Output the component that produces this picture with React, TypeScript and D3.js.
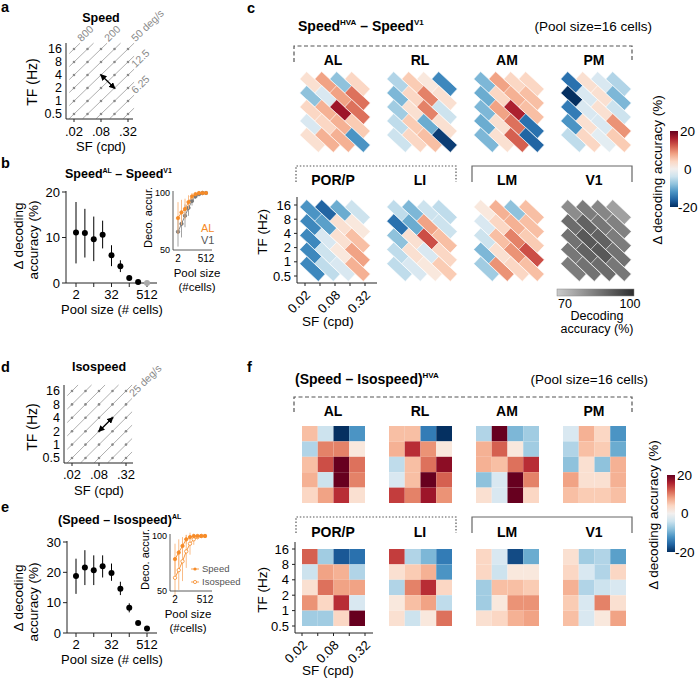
import * as React from 'react';
import * as d3 from 'd3';

const FONT = "'Liberation Sans', Arial, Helvetica, sans-serif";
const ORANGE = '#f68b28';
const ORANGE_LIGHT = '#f8b47a';

// stimulus grid
const sfValues = [0.02, 0.04, 0.08, 0.16, 0.32];
const tfValues = [16, 8, 4, 2, 1, 0.5];
const tfTickLabels = ['16', '8', '4', '2', '1', '0.5'];
const sfLabelValues = [0.02, 0.08, 0.32];
const sfLabelsShort = ['.02', '.08', '.32'];
const sfLabelsLong = ['0.02', '0.08', '0.32'];

// iso-speed lines of the schematics (deg/s)
const speedLines = [800, 400, 200, 100, 50, 25, 12.5, 6.25, 3.125, 1.5625];
const speedLabelAt = [800, 200, 50, 12.5, 3.125];
const speedLabelText = ['800', '200', '50 deg/s', '12.5', '6.25'];
const isoLabelAt = [25];
const isoLabelText = ['25 deg/s'];

// pool sizes
const poolSizes = [2, 4, 8, 16, 32, 64, 128, 256, 512];
const poolTickValues = [2, 32, 512];

// b: Speed(AL) - Speed(V1)
const bMean = [11.1, 11.0, 9.6, 10.6, 6.1, 3.7, 1.1, 0.2, 0];
const bLow = [4.3, 5.6, 4.8, 7.6, 3.7, 2.4, 0.6, 0, 0];
const bHigh = [17.8, 16.3, 14.6, 13.7, 8.3, 5.0, 1.6, 0.4, 0.1];
const bInsetAL = [78, 83, 86, 92, 97, 99, 100, 100, 100];
const bInsetALErr = [14, 11, 9, 6, 3, 1.5, 0.6, 0.3, 0.2];
const bInsetV1 = [66, 73, 80, 87, 93, 97, 99, 100, 100];
const bInsetV1Err = [13, 12, 10, 7, 4, 2, 1, 0.5, 0.3];

// e: (Speed - Isospeed) AL
const eMean = [18.8, 21.6, 20.7, 22.0, 19.8, 14.6, 8.3, 3.3, 1.5];
const eLow = [12.9, 15.8, 15.8, 18.3, 17.2, 12.5, 6.8, 2.8, 1.2];
const eHigh = [24.5, 27.3, 25.6, 25.6, 22.9, 16.9, 9.8, 3.8, 1.8];
const eInsetSpeed = [79, 85, 91, 97, 99, 100, 100, 100, 100];
const eInsetSpeedErr = [14, 12, 8, 4, 2, 1, 0.5, 0.3, 0.2];
const eInsetIso = [62, 69, 77, 86, 93, 97, 99, 100, 100];
const eInsetIsoErr = [16, 18, 18, 15, 10, 5, 2, 1, 0.5];

// c: Speed(HVA) - Speed(V1), rows = TF 16 -> 0.5, cols = SF .02 -> .32
const topRegions = ['AL', 'RL', 'AM', 'PM'];
const bottomRegions = ['POR/P', 'LI', 'LM', 'V1'];
const speedAL = [[3, 8, -8, 4], [-8, -3, 8, 11], [4, 7, 17, 11], [-3, 4, 7, 5], [3, 7, 7, -12]];
const speedRL = [[-6, 5, 2, -13], [-9, 4, 10, 3], [-7, 3, 10, -4], [-5, 5, -10, 3], [-4, 4, 6, -19]];
const speedAM = [[-9, 8, 4, 4], [-10, 4, 7, 6], [-9, 8, 16, 6], [-10, 3, 11, -15], [-9, 3, 12, -16]];
const speedPM = [[-15, 3, -3, -6], [-20, -3, 3, -9], [-14, -3, 3, -4], [-12, 3, -3, 9], [-5, 4, -2, 5]];
const speedPOR = [[-12, -16, -10, -4], [-13, -11, 3, 2], [-13, -3, 3, 6], [-13, -4, 2, 8], [-13, -5, -3, 7]];
const speedLI = [[-5, -9, -4, -5], [-15, -10, 8, -4], [-8, 3, 13, 6], [-5, 3, -3, 4], [-5, -3, 2, 5]];
const speedLM = [[2, 7, -8, 6], [-3, 4, 7, 6], [-4, 6, 10, 5], [-9, 3, 9, 13], [-7, 9, 4, 6]];
const speedV1Acc = [[82, 85, 83, 78], [88, 90, 86, 84], [87, 92, 90, 85], [86, 90, 92, 87], [85, 87, 88, 86]];

// f: (Speed - Isospeed) HVA
const isoAL = [[6, -4, -20, -12], [-6, 10, 10, 2], [6, 13, 20, 11], [7, -4, 20, 10], [4, 8, 15, 3]];
const isoRL = [[6, 6, -14, -20], [7, 15, 9, 2], [-5, 6, 11, 18], [-3, 6, 20, 12], [14, 10, 17, 9]];
const isoAM = [[-6, 20, -9, -7], [7, 12, 2, -7], [7, 6, 11, 15], [-8, -3, 20, 10], [3, -3, 20, 4]];
const isoPM = [[-3, 7, 4, -12], [-6, 6, 5, -10], [-8, 3, -8, 7], [8, 3, 3, 7], [6, 5, 5, 6]];
const isoPOR = [[12, -7, -17, -15], [-4, 8, 7, -6], [3, 11, 8, 8], [9, 4, 15, -3], [-7, -7, 4, 20]];
const isoLI = [[14, -6, -9, -14], [3, 5, 7, -12], [-6, 10, 15, 4], [2, 6, 8, -5], [3, -4, 2, 11]];
const isoLM = [[4, -3, -18, -10], [4, -4, 2, 2], [-7, 6, 6, 5], [-7, 2, 9, 9], [3, 4, 7, 8]];
const isoV1 = [[3, -7, -6, -11], [4, -3, -6, 4], [7, -6, -4, -3], [5, -3, 10, 3], [6, -3, 2, 8]];

const diffColor = d3.scaleSequential(d3.interpolateRdBu).domain([20, -20]).clamp(true);
const accColor = d3.scaleLinear<string>().domain([70, 100]).range(['#cacaca', '#2e2e2e']).clamp(true);

function gridScales(x0: number, x1: number, yTop: number, yBot: number) {
  return {
    x: d3.scaleLog().base(2).domain([0.02, 0.32]).range([x0, x1]),
    y: d3.scaleLog().base(2).domain([0.5, 16]).range([yBot, yTop]),
  };
}

function Schematic(props: any) {
  const { x0, x1, yTop, yBot, axX, axY, axTop, axRight, title, titleY, labelAt, labelText, arrow, tickY, sfLabelY, tfLabelCY } = props;
  const { x, y } = gridScales(x0, x1, yTop, yBot);
  const sfLo = 0.02 * 2 ** -0.35, sfHi = 0.32 * 2 ** 0.45;
  const tfLo = 0.5 * 2 ** -0.35, tfHi = 16 * 2 ** 0.45;
  const angle = (-Math.atan2(y(1) - y(2), x(0.04) - x(0.02)) * 180) / Math.PI;
  const segs = speedLines.map(s => {
    const lo = Math.max(sfLo, tfLo / s), hi = Math.min(sfHi, tfHi / s);
    return { s, lo, hi };
  }).filter(d => d.lo < d.hi);
  return (
    <g>
      <text x={(x0 + x1) / 2} y={titleY} fontSize={12.5} fontWeight="bold" textAnchor="middle">{title}</text>
      {segs.map(d => (
        <line key={d.s} x1={x(d.lo)} y1={y(d.s * d.lo)} x2={x(d.hi)} y2={y(d.s * d.hi)} stroke="#9a9a9a" strokeWidth={0.8} />
      ))}
      {sfValues.map(sf => tfValues.map(tf => (
        <circle key={sf + '-' + tf} cx={x(sf)} cy={y(tf)} r={1.3} fill="#8a8a8a" />
      )))}
      {segs.filter(d => labelAt.includes(d.s)).map(d => {
        const t = labelText[labelAt.indexOf(d.s)];
        return (
          <text key={t} transform={`translate(${x(d.hi) + 1.5},${y(d.s * d.hi) - 1}) rotate(${angle})`} fontSize={10.5} fill="#8a8a8a">{t}</text>
        );
      })}
      <line x1={x(arrow[0])} y1={y(arrow[1])} x2={x(arrow[2])} y2={y(arrow[3])} stroke="#000" strokeWidth={1.3}
        markerStart="url(#arrowHead)" markerEnd="url(#arrowHead)" />
      <line x1={axX} y1={axTop} x2={axX} y2={axY} stroke="#222" strokeWidth={1} />
      <line x1={axX} y1={axY} x2={axRight} y2={axY} stroke="#222" strokeWidth={1} />
      {tfValues.map((tf, i) => (
        <text key={tf} x={axX - 4} y={y(tf) + 4.3} fontSize={12.5} textAnchor="end">{tfTickLabels[i]}</text>
      ))}
      {sfLabelValues.map((sf, i) => (
        <g key={sf}>
          <line x1={x(sf)} x2={x(sf)} y1={axY} y2={axY + 3} stroke="#222" />
          <text x={x(sf)} y={tickY} fontSize={13} textAnchor="middle">{sfLabelsShort[i]}</text>
        </g>
      ))}
      <text x={(x0 + x1) / 2} y={sfLabelY} fontSize={13} textAnchor="middle">SF (cpd)</text>
      <text transform={`translate(37,${tfLabelCY}) rotate(-90)`} fontSize={14} textAnchor="middle">TF (Hz)</text>
    </g>
  );
}

function PoolMain(props: any) {
  const { axX, y0, yTopPx, yMax, yTicks, mean, lo, hi, grayLast, xLabelY, ylabCY } = props;
  const x = d3.scaleLog().base(2).domain([2, 512]).range([76, 147]);
  const y = d3.scaleLinear().domain([0, yMax]).range([y0, yTopPx]);
  return (
    <g>
      <line x1={axX} y1={yTopPx - 1} x2={axX} y2={y0} stroke="#222" />
      <line x1={axX} y1={y0} x2={157} y2={y0} stroke="#222" />
      {yTicks.map((t: number) => (
        <g key={t}>
          <line x1={axX - 4} x2={axX} y1={y(t)} y2={y(t)} stroke="#222" />
          <text x={axX - 6} y={y(t) + 4.5} fontSize={13} textAnchor="end">{t}</text>
        </g>
      ))}
      {[2, 8, 32, 128, 512].map(p => (
        <line key={p} x1={x(p)} x2={x(p)} y1={y0} y2={y0 + 4} stroke="#222" />
      ))}
      {poolTickValues.map(p => (
        <text key={p} x={x(p)} y={y0 + 15.5} fontSize={13} textAnchor="middle">{p}</text>
      ))}
      {poolSizes.map((p, i) => {
        const c = grayLast && i === poolSizes.length - 1 ? '#aaa' : '#000';
        return (
          <g key={p}>
            <line x1={x(p)} x2={x(p)} y1={y(lo[i])} y2={y(hi[i])} stroke={c} strokeWidth={1} />
            <circle cx={x(p)} cy={y(mean[i])} r={3} fill={c} />
          </g>
        );
      })}
      <text x={112} y={xLabelY} fontSize={13} textAnchor="middle">Pool size (# cells)</text>
      <text transform={`translate(23,${ylabCY}) rotate(-90)`} fontSize={13.5} textAnchor="middle">Δ decoding</text>
      <text transform={`translate(38,${ylabCY + 4}) rotate(-90)`} fontSize={13.5} textAnchor="middle">accuracy (%)</text>
    </g>
  );
}

function PoolInset(props: any) {
  const { axX, y100, y50, xStart, xEnd, series, labelX } = props;
  const x = d3.scaleLog().base(2).domain([2, 512]).range([xStart, xEnd]);
  const y = d3.scaleLinear().domain([50, 100]).range([y50, y100]);
  const line = d3.line<number>().x((_, i) => x(poolSizes[i])).y(d => y(d));
  return (
    <g>
      {series.map((s: any, k: number) => (
        <g key={k}>
          {poolSizes.map((p, i) => (
            <line key={p} x1={x(p)} x2={x(p)} y1={y(Math.max(46, s.mean[i] - s.err[i]))} y2={y(Math.min(103, s.mean[i] + s.err[i]))}
              stroke={s.errColor} strokeWidth={0.9} />
          ))}
          <path d={line(s.mean) || ''} fill="none" stroke={s.color} strokeWidth={0.9} />
          {poolSizes.map((p, i) => (
            <circle key={p} cx={x(p)} cy={y(s.mean[i])} r={1.7} fill={s.open ? '#fff' : s.color} stroke={s.color} strokeWidth={0.8} />
          ))}
        </g>
      ))}
      <line x1={axX} y1={y100 - 2} x2={axX} y2={y50} stroke="#333" strokeWidth={0.8} />
      <line x1={axX} y1={y50} x2={212} y2={y50} stroke="#333" strokeWidth={0.8} />
      <text x={axX - 3} y={y100 + 3} fontSize={9} textAnchor="end">100</text>
      <text x={axX - 3} y={y50 + 3} fontSize={9} textAnchor="end">50</text>
      <text x={x(2)} y={y50 + 12} fontSize={10} textAnchor="middle">2</text>
      <text x={x(512)} y={y50 + 12} fontSize={10} textAnchor="middle">512</text>
      <text x={labelX} y={y50 + 27} fontSize={11.5} textAnchor="middle">Pool size</text>
      <text x={labelX} y={y50 + 41} fontSize={11.5} textAnchor="middle">(#cells)</text>
      <text transform={`translate(${axX - 21},${(y100 + y50) / 2 - 4}) rotate(-90)`} fontSize={11} textAnchor="middle">Deco. accur.</text>
    </g>
  );
}

function SpeedBars(props: any) {
  const { x0, yTop, yBot, values, color } = props;
  const { x, y } = gridScales(x0, x0 + 60, yTop, yBot);
  const dx = x(0.04) - x(0.02), dy = y(1) - y(2);
  const len = Math.hypot(dx, dy) + 5;
  const wid = 10.2;
  const ang = (Math.atan2(dy, dx) * 180) / Math.PI;
  const cells: any[] = [];
  values.forEach((row: number[], r: number) => row.forEach((v, c) => {
    cells.push({ cx: (x(sfValues[c]) + x(sfValues[c + 1])) / 2, cy: (y(tfValues[r]) + y(tfValues[r + 1])) / 2, v, key: r + '-' + c });
  }));
  return (
    <g>
      {cells.map(d => (
        <rect key={d.key} x={-len / 2} y={-wid / 2} width={len} height={wid} fill={color(d.v)} stroke="#fff" strokeWidth={0.6}
          transform={`translate(${d.cx},${d.cy}) rotate(${ang})`} />
      ))}
    </g>
  );
}

function HeatCells(props: any) {
  const { x0, yTop, yBot, values } = props;
  const { x, y } = gridScales(x0, x0 + 63, yTop, yBot);
  return (
    <g>
      {values.map((row: number[], r: number) => row.map((v, c) => (
        <rect key={r + '-' + c} x={x(sfValues[c])} y={y(tfValues[r])} width={x(sfValues[c + 1]) - x(sfValues[c])}
          height={y(tfValues[r + 1]) - y(tfValues[r])} fill={diffColor(v)} />
      )))}
    </g>
  );
}

function MapAxes(props: any) {
  const { x0, x1, yTop, yBot, axX, axY, axTop, axRight, tfLabelCY, sfLabelY } = props;
  const { x, y } = gridScales(x0, x1, yTop, yBot);
  return (
    <g>
      <line x1={axX} y1={axTop} x2={axX} y2={axY} stroke="#222" />
      <line x1={axX} y1={axY} x2={axRight} y2={axY} stroke="#222" />
      {tfValues.map((tf, i) => (
        <g key={tf}>
          <line x1={axX - 3} x2={axX} y1={y(tf)} y2={y(tf)} stroke="#222" />
          <text x={axX - 6} y={y(tf) + 4.5} fontSize={13} textAnchor="end">{tfTickLabels[i]}</text>
        </g>
      ))}
      {sfValues.map(sf => (
        <line key={sf} x1={x(sf)} x2={x(sf)} y1={axY} y2={axY + 3} stroke="#222" />
      ))}
      {sfLabelValues.map((sf, i) => (
        <text key={sf} transform={`translate(${x(sf) + 6},${axY + 13}) rotate(-45)`} fontSize={13} textAnchor="end">{sfLabelsLong[i]}</text>
      ))}
      <text transform={`translate(267,${tfLabelCY}) rotate(-90)`} fontSize={13.5} textAnchor="middle">TF (Hz)</text>
      <text x={328} y={sfLabelY} fontSize={13.5} textAnchor="middle">SF (cpd)</text>
    </g>
  );
}

function Bracket(props: any) {
  const { x1, x2, y, drop, dash, color } = props;
  return (
    <path d={`M${x1},${y + drop} V${y} H${x2} V${y + drop}`} fill="none" stroke={color} strokeWidth={1.2} strokeDasharray={dash} />
  );
}

function DiffColorbar(props: any) {
  const { x, yTop, yBot, id, labelX, labelCY } = props;
  const stops = d3.range(0, 1.0001, 0.1);
  return (
    <g>
      <defs>
        <linearGradient id={id} x1="0" y1="0" x2="0" y2="1">
          {stops.map(t => <stop key={t} offset={t} stopColor={diffColor(20 - 40 * t)} />)}
        </linearGradient>
      </defs>
      <rect x={x} y={yTop} width={8} height={yBot - yTop} fill={`url(#${id})`} />
      <text x={x + 10} y={yTop + 5} fontSize={13.5}>20</text>
      <text x={x + 14} y={(yTop + yBot) / 2 + 4.5} fontSize={13.5}>0</text>
      <text x={x + 8} y={yBot + 4.5} fontSize={13.5}>-20</text>
      <text transform={`translate(${labelX},${labelCY}) rotate(-90)`} fontSize={13.5} textAnchor="middle">Δ decoding accuracy (%)</text>
    </g>
  );
}

function RegionLabels(props: any) {
  const { names, y } = props;
  return (
    <g>
      {names.map((n: string, i: number) => (
        <text key={n} x={333 + 87 * i} y={y} fontSize={14} fontWeight="bold" textAnchor="middle">{n}</text>
      ))}
    </g>
  );
}

export default function App() {
  const topSpeed = [speedAL, speedRL, speedAM, speedPM];
  const botSpeed = [speedPOR, speedLI, speedLM];
  const topIso = [isoAL, isoRL, isoAM, isoPM];
  const botIso = [isoPOR, isoLI, isoLM, isoV1];
  return (
    <svg width={699} height={682} style={{ position: 'absolute', left: 0, top: 0, background: '#fff' }} fontFamily={FONT}>
      <defs>
        <marker id="arrowHead" viewBox="0 0 10 10" refX="8" refY="5" markerWidth="5" markerHeight="5" orient="auto-start-reverse">
          <path d="M0,0 L10,5 L0,10 z" fill="#000" />
        </marker>
        <linearGradient id="accGrad" x1="0" y1="0" x2="1" y2="0">
          <stop offset="0" stopColor={accColor(70)} />
          <stop offset="1" stopColor={accColor(100)} />
        </linearGradient>
      </defs>

      {/* panel letters */}
      <text x={1} y={12} fontSize={14.5} fontWeight="bold">a</text>
      <text x={1} y={168} fontSize={14.5} fontWeight="bold">b</text>
      <text x={247} y={13} fontSize={14.5} fontWeight="bold">c</text>
      <text x={1} y={372} fontSize={14.5} fontWeight="bold">d</text>
      <text x={1} y={512} fontSize={14.5} fontWeight="bold">e</text>
      <text x={247} y={372} fontSize={14.5} fontWeight="bold">f</text>

      {/* a */}
      <Schematic x0={74} x1={128} yTop={49} yBot={114} axX={66} axY={119} axTop={43} axRight={133}
        title="Speed" titleY={22} labelAt={speedLabelAt} labelText={speedLabelText} arrow={[0.08, 4, 0.16, 2]}
        tickY={136} sfLabelY={151} tfLabelCY={82} />

      {/* b */}
      <text x={65} y={178} fontSize={12.5} fontWeight="bold">Speed<tspan fontSize={7} dy={-5}>AL</tspan><tspan dy={5}> –  Speed</tspan><tspan fontSize={7} dy={-5}>V1</tspan></text>
      <PoolMain axX={66} y0={283} yTopPx={192} yMax={20} yTicks={[0, 10, 20]} mean={bMean} lo={bLow} hi={bHigh} grayLast={true}
        xLabelY={314} ylabCY={236} />
      <PoolInset axX={173} y100={193} y50={250} xStart={178} xEnd={206} labelX={197}
        series={[
          { mean: bInsetV1, err: bInsetV1Err, color: '#777', errColor: '#999', open: false },
          { mean: bInsetAL, err: bInsetALErr, color: ORANGE, errColor: ORANGE_LIGHT, open: false },
        ]} />
      <text x={201} y={232} fontSize={11} fill={ORANGE}>AL</text>
      <text x={201} y={244} fontSize={11} fill="#555">V1</text>

      {/* d */}
      <Schematic x0={72} x1={126} yTop={391} yBot={458} axX={64} axY={463} axTop={385} axRight={133}
        title="Isospeed" titleY={371} labelAt={isoLabelAt} labelText={isoLabelText} arrow={[0.08, 2, 0.16, 4]}
        tickY={479} sfLabelY={495} tfLabelCY={427} />

      {/* e */}
      <text x={58} y={524} fontSize={12.5} fontWeight="bold">(Speed – Isospeed)<tspan fontSize={7} dy={-5}>AL</tspan></text>
      <PoolMain axX={67} y0={633} yTopPx={542} yMax={30} yTicks={[0, 10, 20, 30]} mean={eMean} lo={eLow} hi={eHigh} grayLast={false}
        xLabelY={664} ylabCY={598} />
      <PoolInset axX={170} y100={536} y50={591} xStart={175} xEnd={205} labelX={188}
        series={[
          { mean: eInsetIso, err: eInsetIsoErr, color: ORANGE, errColor: ORANGE_LIGHT, open: true },
          { mean: eInsetSpeed, err: eInsetSpeedErr, color: ORANGE, errColor: ORANGE_LIGHT, open: false },
        ]} />
      <line x1={191} x2={199} y1={569} y2={569} stroke={ORANGE} strokeWidth={0.8} />
      <circle cx={195} cy={569} r={1.6} fill={ORANGE} />
      <text x={202} y={572} fontSize={9.5} fill="#555">Speed</text>
      <line x1={191} x2={199} y1={582} y2={582} stroke={ORANGE} strokeWidth={0.8} />
      <circle cx={195} cy={582} r={1.6} fill="#fff" stroke={ORANGE} strokeWidth={0.8} />
      <text x={202} y={585} fontSize={9.5} fill="#555">Isospeed</text>

      {/* c */}
      <text x={298} y={31} fontSize={14} fontWeight="bold">Speed<tspan fontSize={8} dy={-6}>HVA</tspan><tspan dy={6}> –  Speed</tspan><tspan fontSize={8} dy={-6}>V1</tspan></text>
      <text x={652} y={31} fontSize={13.5} textAnchor="end">(Pool size=16 cells)</text>
      <Bracket x1={294} x2={632} y={46} drop={16} dash="4,2.5" color="#555" />
      <RegionLabels names={topRegions} y={65} />
      {topSpeed.map((v, i) => <SpeedBars key={i} x0={305 + 87 * i} yTop={77} yBot={147} values={v} color={diffColor} />)}
      <Bracket x1={296} x2={456} y={166} drop={16} dash="1.5,1.8" color="#555" />
      <Bracket x1={472} x2={632} y={166} drop={16} dash="none" color="#666" />
      <RegionLabels names={bottomRegions} y={185} />
      {botSpeed.map((v, i) => <SpeedBars key={i} x0={305 + 87 * i} yTop={205} yBot={276} values={v} color={diffColor} />)}
      <SpeedBars x0={305 + 87 * 3} yTop={205} yBot={276} values={speedV1Acc} color={accColor} />
      <MapAxes x0={305} x1={365} yTop={205} yBot={276} axX={297} axY={283} axTop={197} axRight={377} tfLabelCY={232} sfLabelY={326} />
      <DiffColorbar x={670} yTop={131} yBot={207} id="cbC" labelX={662} labelCY={170} />
      <rect x={557} y={289} width={77} height={7} fill="url(#accGrad)" stroke="#888" strokeWidth={0.5} />
      <text x={565} y={308} fontSize={12.5} textAnchor="middle">70</text>
      <text x={630} y={308} fontSize={12.5} textAnchor="middle">100</text>
      <text x={597} y={320} fontSize={12.5} textAnchor="middle">Decoding</text>
      <text x={597} y={333} fontSize={12.5} textAnchor="middle">accuracy (%)</text>

      {/* f */}
      <text x={295} y={384} fontSize={14} fontWeight="bold">(Speed – Isospeed)<tspan fontSize={8} dy={-6}>HVA</tspan></text>
      <text x={648} y={384} fontSize={13.5} textAnchor="end">(Pool size=16 cells)</text>
      <Bracket x1={294} x2={632} y={397} drop={15} dash="4,2.5" color="#555" />
      <RegionLabels names={topRegions} y={416} />
      {topIso.map((v, i) => <HeatCells key={i} x0={302 + 87 * i} yTop={426} yBot={503} values={v} />)}
      <Bracket x1={296} x2={456} y={517} drop={16} dash="1.5,1.8" color="#555" />
      <Bracket x1={472} x2={632} y={517} drop={16} dash="none" color="#666" />
      <RegionLabels names={bottomRegions} y={537} />
      {botIso.map((v, i) => <HeatCells key={i} x0={302 + 87 * i} yTop={549} yBot={626} values={v} />)}
      <MapAxes x0={302} x1={365} yTop={549} yBot={626} axX={295} axY={633} axTop={542} axRight={373} tfLabelCY={590} sfLabelY={675} />
      <DiffColorbar x={667} yTop={475} yBot={552} id="cbF" labelX={658} labelCY={515} />
    </svg>
  );
}
